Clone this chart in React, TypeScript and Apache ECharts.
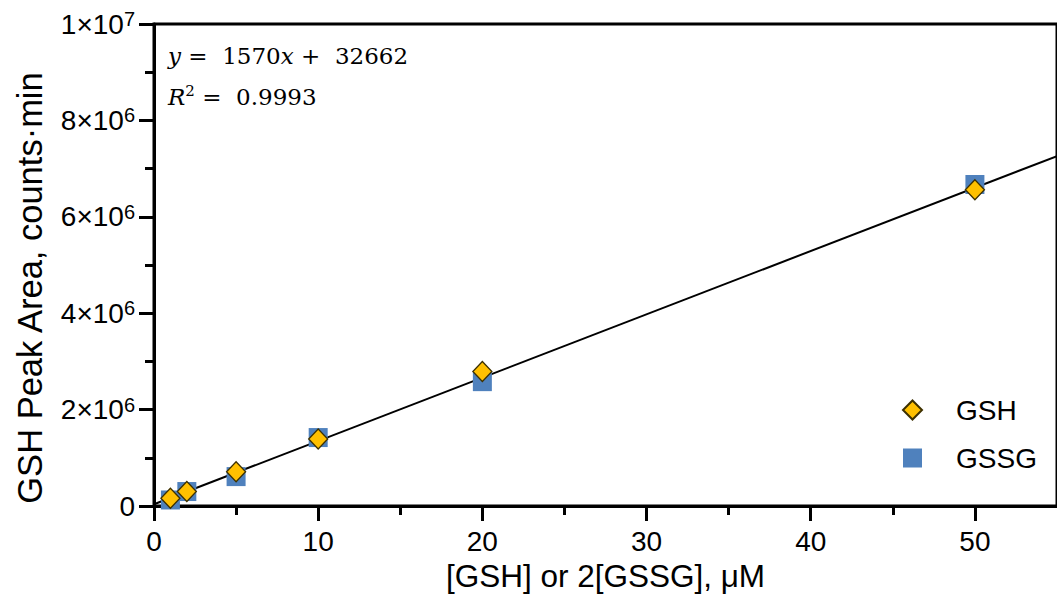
import React, { useEffect, useRef } from 'react';
import * as echarts from 'echarts';

const xTickValues = [0, 10, 20, 30, 40, 50];
const yTickLabels = ['0', '2×10^6', '4×10^6', '6×10^6', '8×10^6', '1×10^7'];
const concentrations = [1, 2, 5, 10, 20, 50];
const gshArea = [160000, 300000, 710000, 1390000, 2790000, 6560000];
const gssgArea = [125000, 300000, 610000, 1420000, 2580000, 6670000];
const fitLineX = [0, 55];
const fitLineY = [36000, 7260000];
const seriesNames = ['GSH', 'GSSG'];
const xAxisTitle = '[GSH] or 2[GSSG], μM';
const yAxisTitle = 'GSH Peak Area, counts·min';

const SANS = '"Liberation Sans", Arial, sans-serif';
const SERIF = '"DejaVu Serif", serif';

export default function App() {
  const ref = useRef<HTMLDivElement>(null);
  useEffect(() => {
    if (!ref.current) return;
    const chart = echarts.init(ref.current, undefined, { renderer: 'svg' });
    const yLabel = (v: number) => {
      const s = yTickLabels[Math.round(v / 2e6)];
      if (s === undefined) return '';
      if (!s.includes('^')) return `{b|${s}}`;
      const [m, e] = s.split('^');
      return `{b|${m}}{sup|${e}}`;
    };
    chart.setOption({
      animation: false,
      backgroundColor: '#fff',
      grid: {
        left: 154, top: 24, width: 914, height: 482,
        show: true, borderColor: '#000', borderWidth: 3,
      },
      xAxis: {
        type: 'value', min: 0, max: 55, interval: 10,
        name: xAxisTitle, nameLocation: 'middle', nameGap: 51,
        nameTextStyle: { fontFamily: SANS, fontSize: 31.5, color: '#000', verticalAlign: 'top' },
        axisLine: { show: true, onZero: false, lineStyle: { color: '#000', width: 3 } },
        axisTick: { show: true, length: 15, lineStyle: { color: '#000', width: 3 }, customValues: xTickValues },
        minorTick: { show: true, splitNumber: 2, length: 9, lineStyle: { color: '#000', width: 3 } },
        splitLine: { show: false },
        minorSplitLine: { show: false },
        axisLabel: {
          fontFamily: SANS, fontSize: 28, color: '#000', margin: 21,
          customValues: xTickValues,
        },
      },
      yAxis: {
        type: 'value', min: 0, max: 1e7, interval: 2e6,
        name: yAxisTitle, nameLocation: 'middle', nameGap: 107,
        nameTextStyle: { fontFamily: SANS, fontSize: 34.5, color: '#000', padding: [0, 46, 0, 0] },
        axisLine: { show: true, onZero: false, lineStyle: { color: '#000', width: 3 } },
        axisTick: { show: true, length: 15, lineStyle: { color: '#000', width: 3 } },
        minorTick: { show: true, splitNumber: 2, length: 9, lineStyle: { color: '#000', width: 3 } },
        splitLine: { show: false },
        axisLabel: {
          margin: 19,
          formatter: yLabel,
          rich: {
            b: { fontFamily: SANS, fontSize: 28, color: '#000', lineHeight: 30 },
            sup: { fontFamily: SANS, fontSize: 20, color: '#000', lineHeight: 20, verticalAlign: 'top' },
          },
        },
      },
      legend: {
        show: true, orient: 'vertical', left: 897, top: 390,
        data: seriesNames,
        itemWidth: 19, itemHeight: 19, itemGap: 18,
        textStyle: { fontFamily: SANS, fontSize: 28, color: '#000', lineHeight: 30, padding: [0, 0, 0, 29] },
      },
      graphic: [
        {
          type: 'text', left: 168, top: 44,
          style: {
            text: '{i|y}{n| =  1570}{i|x}{n| +  32662}',
            rich: {
              i: { fontFamily: SERIF, fontStyle: 'italic', fontSize: 23, fill: '#000', lineHeight: 28 },
              n: { fontFamily: SERIF, fontSize: 23, fill: '#000', lineHeight: 28 },
            },
          },
        },
        {
          type: 'text', left: 168, top: 83,
          style: {
            text: '{i|R}{sup|2}{n| =  0.9993}',
            rich: {
              i: { fontFamily: SERIF, fontStyle: 'italic', fontSize: 23, fill: '#000', lineHeight: 28 },
              sup: { fontFamily: SERIF, fontSize: 15, fill: '#000', lineHeight: 15, verticalAlign: 'top' },
              n: { fontFamily: SERIF, fontSize: 23, fill: '#000', lineHeight: 28 },
            },
          },
        },
      ],
      series: [
        {
          name: 'fit', type: 'line', symbol: 'none', silent: true,
          data: fitLineX.map((x, i) => [x, fitLineY[i]]),
          lineStyle: { color: '#000', width: 2 }, z: 1,
        },
        {
          name: 'GSSG', type: 'scatter', symbol: 'rect', symbolSize: 19,
          data: concentrations.map((x, i) => [x, gssgArea[i]]),
          itemStyle: { color: '#4F81BD', opacity: 1 }, z: 2,
        },
        {
          name: 'GSH', type: 'scatter', symbol: 'diamond', symbolSize: [19, 20],
          data: concentrations.map((x, i) => [x, gshArea[i]]),
          itemStyle: { color: '#FFC000', borderColor: '#3D3000', borderWidth: 1.3, opacity: 1 }, z: 3,
        },
      ],
    });
    return () => chart.dispose();
  }, []);
  return (
    <div
      ref={ref}
      style={{ position: 'absolute', left: 0, top: 0, width: 1057, height: 607 }}
    />
  );
}
